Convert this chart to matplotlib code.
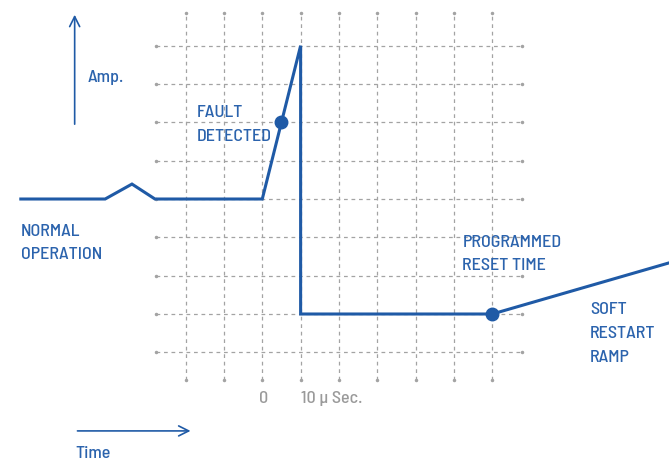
import numpy as np
import matplotlib
matplotlib.use("Agg")
import matplotlib.pyplot as plt

plt.rcParams['font.family'] = ['Barlow Semi Condensed', 'DejaVu Sans']
plt.rcParams['font.weight'] = 500

# grid units: one cell per step, x=0 at the "0" label, y=0 at normal level
grid_x = np.arange(-2, 7)
grid_y = np.arange(-4, 5)

# current trace
trace_x = [-6.30, -4.10, -3.40, -2.80, 0.0, 1.0, 1.0, 6.0, 10.6]
trace_y = [0.0, 0.0, 0.39, 0.0, 0.0, 4.0, -3.0, -3.0, -1.67]

# marked points
fault_pt = (0.5, 2.0)
reset_pt = (6.0, -3.0)

# annotation labels: (x, first baseline, lines)
labels = [
    (-4.547, 3.04, ['Amp.']),
    (-6.303, -0.952, ['NORMAL', 'OPERATION']),
    (-1.711, 2.139, ['FAULT', 'DETECTED']),
    (5.218, -1.239, ['PROGRAMMED', 'RESET TIME']),
    (8.55, -3.0, ['SOFT', 'RESTART', 'RAMP']),
    (-4.887, -6.76, ['Time']),
]
line_step = 0.625

blue = '#1f5aa6'
txt_blue = '#2b63ad'
gray = '#a3a3a3'
tick_gray = '#9a9a9a'

fig = plt.figure(figsize=(6.69, 4.62), dpi=100)
ax = fig.add_axes([0, 0, 1, 1])
ax.set_xlim(-6.843, 10.611)
ax.set_ylim(-6.861, 5.192)
ax.axis('off')

# dotted grid
ax.hlines(grid_y, -2.78, 6.78, colors=gray, linestyles=(0, (3, 3)), lw=0.9)
ax.vlines(grid_x, -4.72, 4.84, colors=gray, linestyles=(0, (3, 3)), lw=0.9)
ax.plot([-2.78] * len(grid_y), grid_y, 'o', color=gray, ms=1.5)
ax.plot([6.78] * len(grid_y), grid_y, 'o', color=gray, ms=1.5)
ax.plot(grid_x, [-4.72] * len(grid_x), 'o', color=gray, ms=1.5)
ax.plot(grid_x, [4.84] * len(grid_x), 'o', color=gray, ms=1.5)

ax.plot(trace_x, trace_y, color=blue, lw=2.2, solid_joinstyle='miter', clip_on=False)
ax.plot(*fault_pt, 'o', color=blue, ms=9)
ax.plot(*reset_pt, 'o', color=blue, ms=9)

# axis arrows
arrow = dict(arrowstyle='->', color=blue, lw=1.2, mutation_scale=18)
ax.annotate('', xy=(-4.895, 4.88), xytext=(-4.895, 1.88), arrowprops=arrow)
ax.annotate('', xy=(-1.8, -6.05), xytext=(-4.895, -6.05), arrowprops=arrow)

fs = 13
for x, y0, lines in labels:
    for i, s in enumerate(lines):
        ax.text(x, y0 - i * line_step, s, color=txt_blue, fontsize=fs,
                ha='left', va='baseline')

ax.text(0.026, -5.309, '0', color=tick_gray, fontsize=fs, ha='center', va='baseline')
ax.text(1.002, -5.309, '10 \u00b5 Sec.', color=tick_gray, fontsize=fs, ha='left', va='baseline')

fig.savefig('out.png', dpi=100)
